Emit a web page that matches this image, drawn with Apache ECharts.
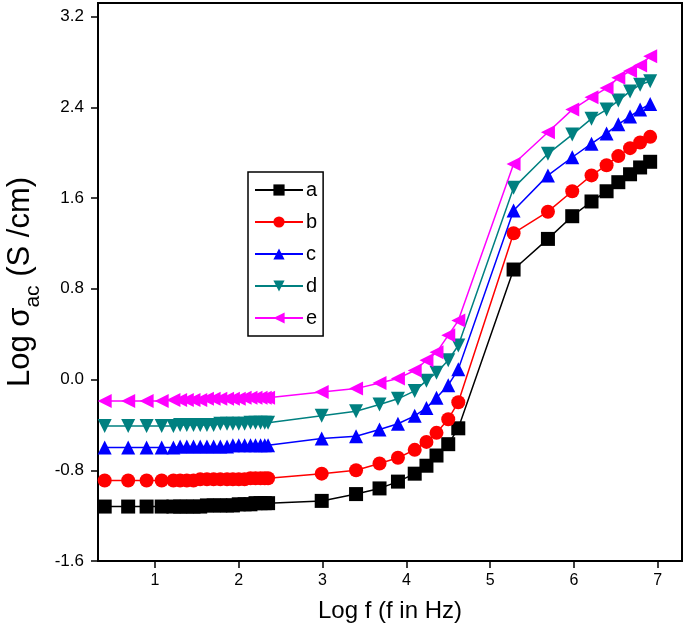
<!DOCTYPE html>
<html>
<head>
<meta charset="utf-8">
<script src="https://cdn.jsdelivr.net/npm/echarts@6/dist/echarts.min.js"></script>
<style>html,body{margin:0;padding:0;background:#fff;}#c{width:685px;height:639px;}</style>
</head>
<body>
<div id="c"></div>
<script>
// Log f values (shared by all samples)
var logf = [0.40, 0.68, 0.90, 1.08, 1.22, 1.30, 1.38, 1.46, 1.54, 1.62, 1.70, 1.78, 1.86, 1.93, 2.00, 2.07, 2.14, 2.20, 2.26, 2.31, 2.35,
            2.99, 3.40, 3.68, 3.90, 4.10, 4.24, 4.36, 4.50, 4.62,
            5.28, 5.69, 5.98, 6.21, 6.39, 6.53, 6.67, 6.79, 6.91];
var seriesNames = ['a', 'b', 'c', 'd', 'e'];
var sa = [-1.12,-1.12,-1.12,-1.12,-1.12,-1.12,-1.12,-1.12,-1.12,-1.11,-1.11,-1.11,-1.11,-1.11,-1.10,-1.10,-1.10,-1.09,-1.09,-1.09,-1.09,
          -1.07,-1.01,-0.96,-0.90,-0.83,-0.76,-0.67,-0.57,-0.43,
          0.97,1.24,1.44,1.57,1.66,1.74,1.81,1.87,1.92];
var sb = [-0.89,-0.89,-0.89,-0.89,-0.89,-0.89,-0.89,-0.89,-0.88,-0.88,-0.88,-0.88,-0.88,-0.88,-0.88,-0.88,-0.87,-0.87,-0.87,-0.87,-0.87,
          -0.83,-0.80,-0.74,-0.69,-0.62,-0.55,-0.47,-0.35,-0.20,
          1.29,1.48,1.66,1.80,1.89,1.97,2.04,2.09,2.14];
var sc = [-0.60,-0.60,-0.60,-0.60,-0.60,-0.59,-0.59,-0.59,-0.59,-0.59,-0.59,-0.59,-0.59,-0.58,-0.58,-0.58,-0.58,-0.58,-0.58,-0.58,-0.58,
          -0.52,-0.50,-0.44,-0.39,-0.32,-0.25,-0.16,-0.05,0.09,
          1.49,1.80,1.96,2.08,2.17,2.25,2.32,2.38,2.43];
var sd = [-0.41,-0.41,-0.41,-0.41,-0.41,-0.40,-0.40,-0.40,-0.40,-0.40,-0.40,-0.39,-0.39,-0.39,-0.39,-0.39,-0.38,-0.38,-0.38,-0.38,-0.38,
          -0.32,-0.28,-0.22,-0.17,-0.10,-0.01,0.06,0.17,0.30,
          1.69,1.99,2.16,2.30,2.38,2.46,2.54,2.60,2.63];
var se = [-0.19,-0.19,-0.19,-0.19,-0.18,-0.18,-0.18,-0.18,-0.18,-0.17,-0.17,-0.17,-0.17,-0.17,-0.17,-0.16,-0.16,-0.16,-0.16,-0.16,-0.16,
          -0.11,-0.08,-0.03,0.01,0.08,0.17,0.24,0.39,0.52,
          1.90,2.18,2.38,2.49,2.57,2.66,2.72,2.77,2.85];
var xTicks = [1, 2, 3, 4, 5, 6, 7];
var yTicks = [-1.6, -0.8, 0.0, 0.8, 1.6, 2.4, 3.2];

var colors = ['#000000', '#ff0000', '#0000ff', '#008080', '#ff00ff'];
var symbols = ['rect', 'circle', 'triangle', 'path://M0,0 L10,0 L5,9 Z', 'path://M0,5 L9,0 L9,10 Z'];
var values = [sa, sb, sc, sd, se];
var FF = 'Liberation Sans, Arial, sans-serif';

var series = values.map(function (vals, i) {
  return {
    name: seriesNames[i],
    type: 'line',
    data: vals.map(function (v, j) { return [logf[j], v]; }),
    symbol: symbols[i],
    symbolSize: 14,
    showAllSymbol: true,
    lineStyle: { color: colors[i], width: 1.5 },
    itemStyle: { color: colors[i] },
    emphasis: { disabled: true },
    z: 2 + i
  };
});

var chart = echarts.init(document.getElementById('c'), null, { renderer: 'canvas' });
chart.setOption({
  animation: false,
  backgroundColor: '#fff',
  textStyle: { fontFamily: FF },
  grid: { left: 98, right: 3, top: 3, bottom: 78, containLabel: false, outerBoundsMode: 'none', show: true, borderColor: '#000', borderWidth: 2, backgroundColor: 'transparent' },
  legend: {
    orient: 'vertical', left: 248, top: 172,
    itemWidth: 48, itemHeight: 14, itemGap: 12,
    padding: [8, 6, 8, 6],
    borderColor: '#000', borderWidth: 1.5,
    textStyle: { fontSize: 20, color: '#000', fontFamily: FF, padding: [0, 0, 0, -2] },
    data: seriesNames
  },
  xAxis: {
    type: 'value', min: 0.32, max: 7.29,
    name: 'Log f (f in Hz)', nameLocation: 'middle', nameGap: 38,
    nameTextStyle: { fontSize: 24, color: '#000', fontFamily: FF },
    axisLine: { show: true, onZero: false, lineStyle: { color: '#000', width: 2 } },
    axisTick: { show: true, inside: false, length: 7, lineStyle: { color: '#000', width: 1.5 }, customValues: xTicks },
    axisLabel: { color: '#000', fontSize: 16, margin: 12, customValues: xTicks },
    splitLine: { show: false }
  },
  yAxis: {
    type: 'value', min: -1.6, max: 3.32,
    name: '{a|Log σ}{b|ac}{a| (S /cm)}', nameLocation: 'middle', nameGap: 52, nameRotate: 90,
    nameTextStyle: {
      color: '#000',
      rich: {
        a: { fontSize: 31, color: '#000', fontFamily: FF, lineHeight: 38, verticalAlign: 'top' },
        b: { fontSize: 21, color: '#000', fontFamily: FF, lineHeight: 21, padding: [18, 0, 0, 0], verticalAlign: 'top' }
      }
    },
    axisLine: { show: true, onZero: false, lineStyle: { color: '#000', width: 2 } },
    axisTick: { show: true, inside: false, length: 7, lineStyle: { color: '#000', width: 1.5 }, customValues: yTicks },
    axisLabel: { color: '#000', fontSize: 17, margin: 14, customValues: yTicks, formatter: function (v) { return v.toFixed(1); } },
    splitLine: { show: false }
  },
  series: series
});
</script>
</body>
</html>
